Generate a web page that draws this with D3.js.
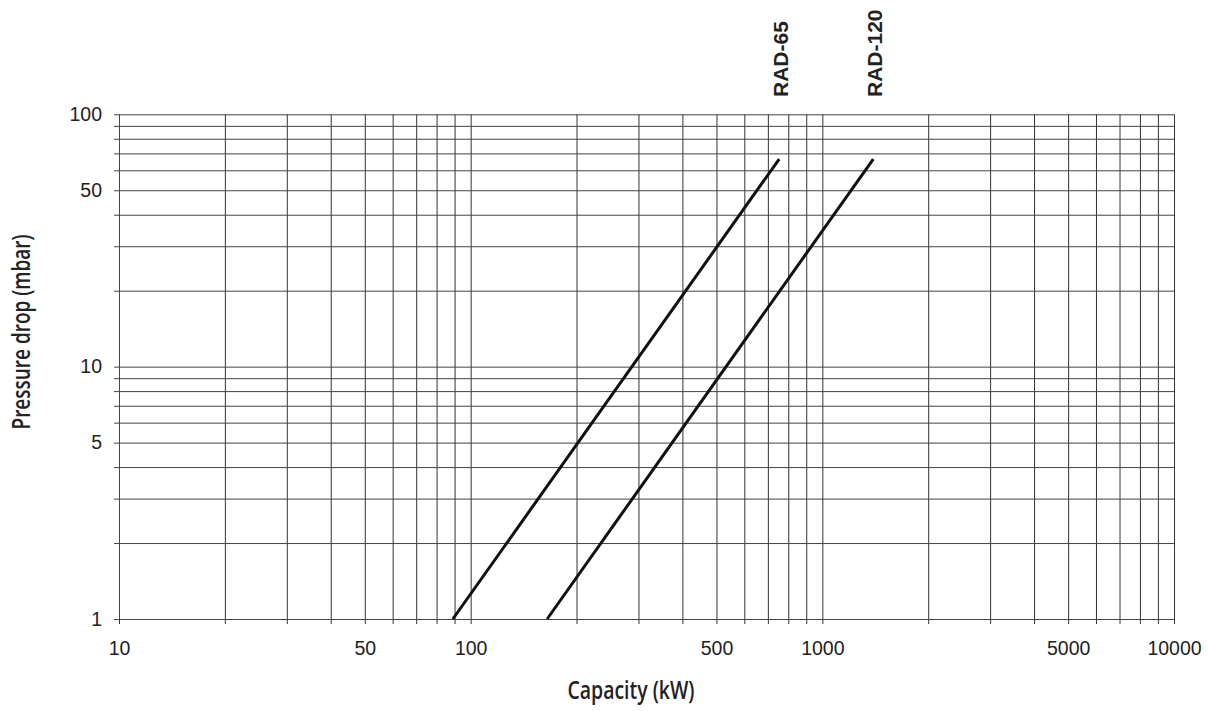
<!DOCTYPE html>
<html>
<head>
<meta charset="utf-8">
<script src="https://cdn.jsdelivr.net/npm/d3@7"></script>
<style>
  body { margin: 0; background: #fff; }
  svg { display: block; }
  .tick text { font-family: "Liberation Sans", Arial, sans-serif; font-size: 19.5px; fill: #222; }
  .title { font-family: "Open Sans", "DejaVu Sans", sans-serif; font-weight: 600; font-size: 26px; fill: #222; }
  .curve-label { font-family: "Liberation Sans", Arial, sans-serif; font-weight: bold; font-size: 21px; fill: #222; }
</style>
</head>
<body>
<svg width="1208" height="711"></svg>
<script>
// data (capacity kW, pressure drop mbar)
var seriesNames = ["RAD-65", "RAD-120"];
var rad65 = [[89, 1], [754, 66.5]];
var rad120 = [[165, 1], [1396, 66.5]];
var xTickLabels = [10, 50, 100, 500, 1000, 5000, 10000];
var yTickLabels = [1, 5, 10, 50, 100];

var svg = d3.select("svg"), width = +svg.attr("width"), height = +svg.attr("height");
var margin = {top: 114.3, right: 34, bottom: 92, left: 119};

var x = d3.scaleLog().domain([10, 10000]).range([margin.left, width - margin.right]);
var y = d3.scaleLog().domain([1, 100]).range([height - margin.bottom, margin.top]);

// every 1..9 multiple in each decade
function gridValues(lo, hi)
{
  var out = [];
  for (var d = lo; d < hi; d *= 10)
    for (var k = 1; k < 10; k++) out.push(d * k);
  out.push(hi);
  return out;
}

var g = svg.append("g");

// vertical grid + bottom ticks
var xGrid = g.append("g")
  .attr("transform", "translate(0," + (height - margin.bottom) + ")")
  .call(d3.axisBottom(x).tickValues(gridValues(10, 10000))
    .tickSizeInner(-(height - margin.top - margin.bottom)).tickSizeOuter(0)
    .tickFormat(function (d) { return xTickLabels.indexOf(d) >= 0 ? d : ""; }));
xGrid.select(".domain").attr("stroke", "#444");
xGrid.selectAll(".tick line").attr("stroke", "#333").attr("y1", 5);
xGrid.selectAll(".tick text").attr("dy", null).attr("y", 36);

// horizontal grid + left ticks
var yGrid = g.append("g")
  .attr("transform", "translate(" + margin.left + ",0)")
  .call(d3.axisLeft(y).tickValues(gridValues(1, 100))
    .tickSizeInner(-(width - margin.left - margin.right)).tickSizeOuter(0)
    .tickFormat(function (d) { return yTickLabels.indexOf(d) >= 0 ? d : ""; }));
yGrid.select(".domain").attr("stroke", "#444");
yGrid.selectAll(".tick line").attr("stroke", "#444").attr("x1", -5);
yGrid.selectAll(".tick text").attr("x", -17);

// curves
var line = d3.line().x(function (d) { return x(d[0]); }).y(function (d) { return y(d[1]); });
var series = [rad65, rad120];

g.selectAll(".curve").data(series).enter().append("path")
  .attr("class", "curve")
  .attr("d", line)
  .attr("fill", "none")
  .attr("stroke", "#111")
  .attr("stroke-width", 3);

g.selectAll(".curve-label").data(series).enter().append("text")
  .attr("class", "curve-label")
  .attr("text-anchor", "start")
  .attr("transform", function (d) {
    var end = d[d.length - 1];
    return "translate(" + (x(end[0]) + 9) + ",97) rotate(-90)";
  })
  .text(function (d, i) { return seriesNames[i]; });

// axis titles
svg.append("text").attr("class", "title")
  .attr("x", 631).attr("y", 699)
  .attr("text-anchor", "middle")
  .attr("textLength", 127).attr("lengthAdjust", "spacingAndGlyphs")
  .text("Capacity (kW)");

svg.append("text").attr("class", "title")
  .attr("text-anchor", "middle")
  .attr("textLength", 195).attr("lengthAdjust", "spacingAndGlyphs")
  .attr("transform", "translate(30,332) rotate(-90)")
  .text("Pressure drop (mbar)");
</script>
</body>
</html>
